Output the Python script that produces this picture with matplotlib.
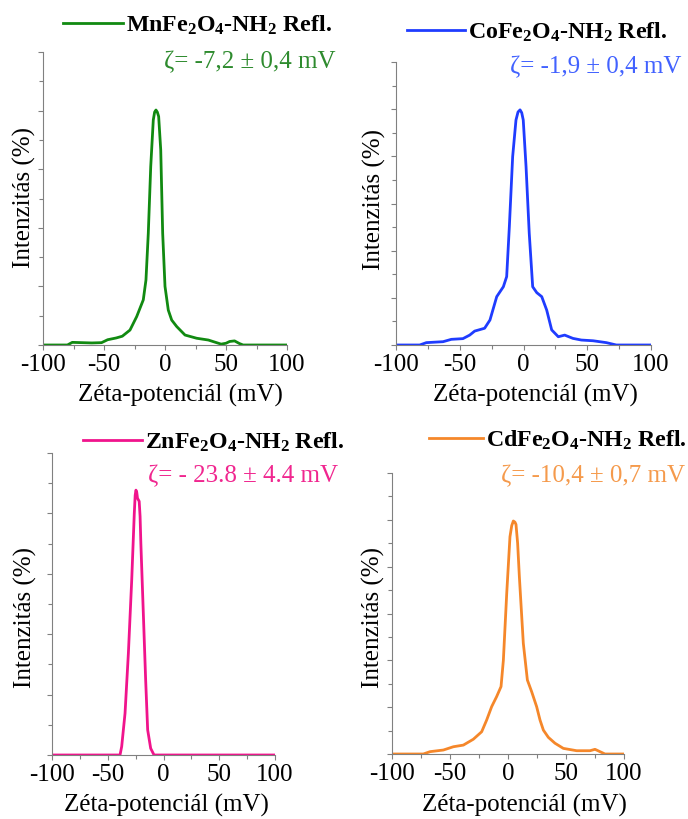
import numpy as np
import matplotlib
matplotlib.use("Agg")
import matplotlib.pyplot as plt
from matplotlib.ticker import MultipleLocator

#----------------------------------------------------
# Data
#----------------------------------------------------
mn_x = [-100, -80, -76, -60, -52, -47, -40, -35, -28.7, -23.2, -17.8, -15.6,
        -13.7, -11.7, -9.6, -8.5, -7.4, -6.3, -5.2, -3.5, -1.9, 0, 2.7, 5.5,
        9.6, 16.4, 26, 35.5, 40, 46, 50, 53, 57, 61, 64, 100]
mn_y = [0, 0, 0.09, 0.07, 0.08, 0.18, 0.24, 0.3, 0.51, 0.97, 1.54, 2.22,
        3.81, 6.09, 7.68, 7.95, 8.02, 7.95, 7.8, 6.66, 3.81, 2.0, 1.19, 0.85,
        0.63, 0.34, 0.23, 0.17, 0.11, 0.03, 0.06, 0.12, 0.14, 0.05, 0, 0]

co_x = [-100, -81.4, -76.2, -63.1, -56.6, -47.5, -42.2, -38.3, -30.5, -26.3, -21.0,
        -15.8, -13.2, -11.1, -8.5, -5.9, -4.3, -2.7, -1.4, -0.2, 2.0, 4.5, 7.2,
        10.4, 14.3, 18.2, 22.1, 27.3, 32.3, 38.8, 45.4, 54.5, 65.0, 72.8, 100]
co_y = [0, 0, 0.1, 0.14, 0.24, 0.27, 0.42, 0.59, 0.71, 1.06, 2.05,
        2.47, 2.9, 5.02, 7.99, 9.54, 9.88, 9.97, 9.85, 9.54, 7.56, 4.74, 2.47,
        2.22, 2.05, 1.48, 0.64, 0.35, 0.42, 0.28, 0.21, 0.18, 0.1, 0, 0]

zn_x = [-100, -39, -37.5, -34.5, -31.5, -28.5, -26.2, -25.4, -24.7, -24.0, -23.3,
        -21.8, -21.0, -20.3, -18.1, -16.0, -14.2, -11.5, -8.5, 100]
zn_y = [0, 0, 0.28, 1.38, 3.37, 5.8, 8.0, 8.6, 8.77, 8.7, 8.5,
        8.4, 7.9, 7.0, 4.7, 2.48, 0.83, 0.22, 0, 0]

cd_x = [-100, -73, -67.2, -55.7, -47.1, -38.5, -29.9, -22.7, -18.4, -14.1, -9.8,
        -6.0, -4.0, -1.1, 1.7, 3.2, 4.6, 6.0, 6.9, 8.3, 9.8, 13.2, 16.7, 20.4,
        24.7, 27.6, 30.5, 34.8, 40.5, 47.7, 59.2, 70.7, 75.0, 79.3, 83.6, 100]
cd_y = [0, 0, 0.1, 0.17, 0.31, 0.38, 0.63, 0.95, 1.45, 2.02, 2.45,
        2.88, 4.0, 6.86, 9.28, 9.75, 9.95, 9.9, 9.8, 9.0, 7.57, 4.73, 3.16, 2.66,
        2.02, 1.45, 1.02, 0.71, 0.46, 0.24, 0.14, 0.14, 0.2, 0.1, 0, 0]

names = ["MnFe$_2$O$_4$-NH$_2$ Refl.", "CoFe$_2$O$_4$-NH$_2$ Refl.",
         "ZnFe$_2$O$_4$-NH$_2$ Refl.", "CdFe$_2$O$_4$-NH$_2$ Refl."]
zetas = ["ζ= -7,2 ± 0,4 mV", "ζ= -1,9 ± 0,4 mV",
         "ζ= - 23.8 ± 4.4 mV", "ζ= -10,4 ± 0,7 mV"]
xticks = [-100, -50, 0, 50, 100]

#----------------------------------------------------
# Styling
#----------------------------------------------------
plt.rcParams["font.family"] = ["Liberation Serif", "DejaVu Serif"]
plt.rcParams["mathtext.default"] = "regular"
plt.rcParams["axes.unicode_minus"] = False
plt.rcParams["font.size"] = 18

W, H = 688, 819
fig = plt.figure(figsize=(W / 100, H / 100), dpi=100)

def px_axes(l, r, t, b):
    return fig.add_axes([l / W, 1 - b / H, (r - l) / W, (b - t) / H])

# per panel: axes box (px), ymax, line/text colour, legend line start and
# handle length, zeta text right edge, xlabel and ylabel centres (all px)
panels = [
    dict(box=(43, 287, 52, 345), ymax=10, lc="#118a11", tc="#2e8b2e",
         leg=(63, 25), hl=2.5, zeta=(336, 62), xl=(180, 395), yl=(24, 197),
         x=mn_x, y=mn_y),
    dict(box=(396, 651, 62, 345), ymax=12, lc="#1f3cff", tc="#4262ff",
         leg=(407, 32), hl=2.42, zeta=(681, 67), xl=(535, 395), yl=(374, 199),
         x=co_x, y=co_y),
    dict(box=(52, 275, 453, 755), ymax=10, lc="#f0148c", tc="#f0268f",
         leg=(83, 442), hl=2.45, zeta=(338, 476), xl=(166, 805), yl=(25, 617),
         x=zn_x, y=zn_y),
    dict(box=(392, 624, 473, 754), ymax=12, lc="#f5872a", tc="#f59a4c",
         leg=(429, 440), hl=2.25, zeta=(685, 476), xl=(524, 805), yl=(373, 617),
         x=cd_x, y=cd_y),
]

for p, name, zeta in zip(panels, names, zetas):
    l, r, t, b = p["box"]
    ax = px_axes(l, r, t, b)
    line, = ax.plot(p["x"], p["y"], color=p["lc"], lw=2.0, label=name,
                    solid_joinstyle="round")
    ax.set_xlim(-100, 100)
    ax.set_ylim(0, p["ymax"])
    ax.set_xticks(xticks)
    ax.xaxis.set_minor_locator(MultipleLocator(25))
    ax.yaxis.set_major_locator(MultipleLocator(2))
    ax.yaxis.set_minor_locator(MultipleLocator(1))
    ax.set_yticklabels([])
    for s in ["top", "right"]:
        ax.spines[s].set_visible(False)
    for s in ["left", "bottom"]:
        ax.spines[s].set_color("#808080")
        ax.spines[s].set_linewidth(0.8)
    ax.tick_params(which="both", direction="out", color="#808080", width=0.8)
    ax.tick_params(which="major", length=3.5, pad=3, labelsize=18)
    ax.tick_params(which="minor", length=3)

    aw, ah = r - l, b - t
    ax.set_xlabel("Zéta-potenciál (mV)", fontsize=18)
    ax.xaxis.set_label_coords((p["xl"][0] - l) / aw, (b - p["xl"][1]) / ah)
    ax.xaxis.label.set_va("center")
    ax.set_ylabel("Intenzitás (%)", fontsize=18)
    ax.yaxis.set_label_coords((p["yl"][0] - l) / aw, (b - p["yl"][1]) / ah)
    ax.yaxis.label.set_va("center")

    lx, ly = p["leg"]
    ax.legend(handles=[line], loc="center left",
              bbox_to_anchor=(lx / W, 1 - ly / H), bbox_transform=fig.transFigure,
              frameon=False, borderpad=0, borderaxespad=0, handlelength=p["hl"],
              handletextpad=0.14, prop=dict(weight="bold", size=17.2))

    zx, zy = p["zeta"]
    fig.text(zx / W, 1 - zy / H, zeta, color=p["tc"], fontsize=18,
             ha="right", va="center")

fig.savefig("out.png", dpi=100)
